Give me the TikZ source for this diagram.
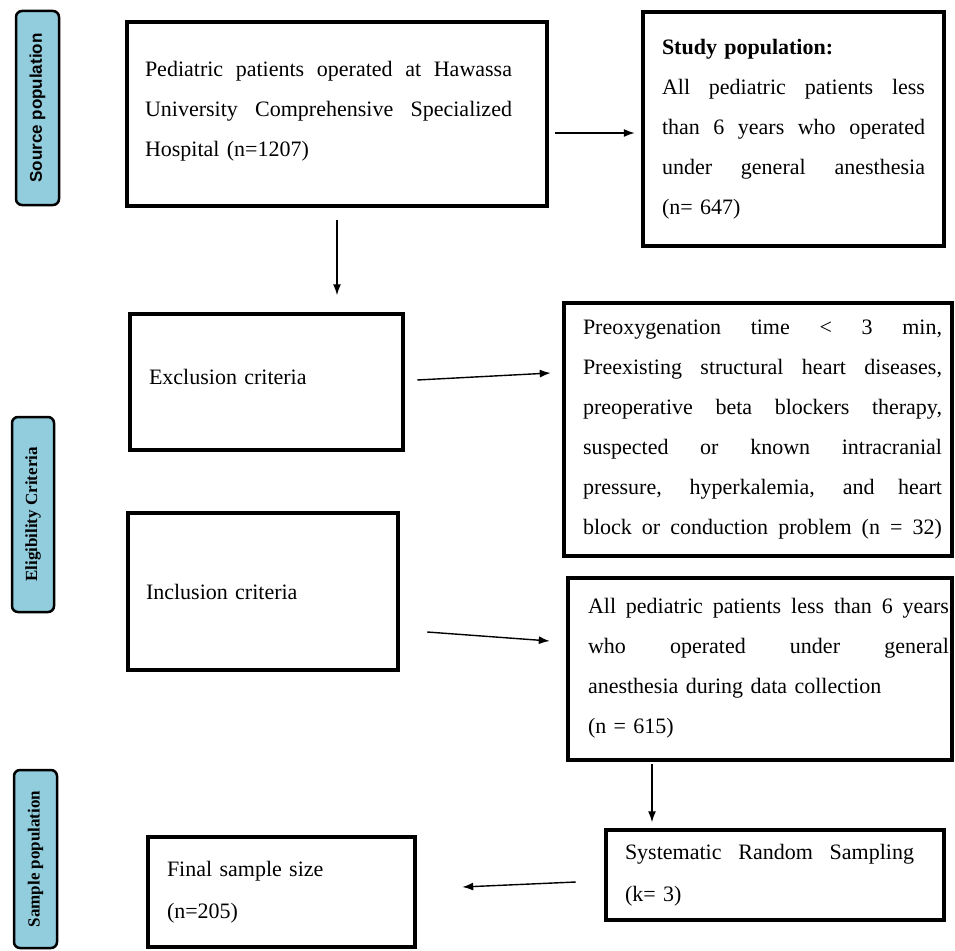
\documentclass[tikz,border=0pt]{standalone}
\usepackage{fontspec}
\setmainfont{Liberation Serif}
\newfontfamily\labsans{Liberation Sans}
\usetikzlibrary{arrows.meta}
\definecolor{lblue}{RGB}{146,205,221}
\newcommand{\jline}[2]{{\spaceskip=0pt\xspaceskip=0pt\makebox[#1][s]{#2}}}
\begin{document}
\begin{tikzpicture}[x=1pt,y=-1pt,
  box/.style={draw, line width=4.5pt, rectangle, align=left, font=\fontsize{22}{40}\selectfont, inner ysep=0pt},
  side/.style={draw, line width=2.5pt, rounded corners=6pt, fill=lblue, inner sep=0pt, rotate=90},
  arr/.style={line width=1.4pt, -{Latex[length=11pt,width=8pt]}}]
\useasboundingbox (0,0) rectangle (955,950);

% side labels
\node[side, minimum width=194pt, minimum height=43pt, font=\labsans\bfseries\fontsize{17}{17}\selectfont] (l1) at (37.5,108) {Source population};
\node[side, minimum width=195pt, minimum height=42pt, font=\bfseries\fontsize{17}{17}\selectfont] (l2) at (33,514.5) {Eligibility Criteria};
\node[side, minimum width=178pt, minimum height=43pt, font=\bfseries\fontsize{17}{17}\selectfont] (l3) at (35.5,859) {Sample population};

% boxes
\node[box, minimum width=420pt, minimum height=184pt, inner xsep=18pt, text width=384pt] (b1) at (337,114)
 {\jline{367pt}{Pediatric patients operated at Hawassa}\\
  \jline{367pt}{University Comprehensive Specialized}\\
  Hospital (n=1207)\rule[-10pt]{0pt}{1pt}};

\node[box, minimum width=301pt, minimum height=234pt, inner xsep=19pt, text width=263pt] (b2) at (793.5,129)
 {\textbf{Study population:}\\
  \jline{263pt}{All pediatric patients less}\\
  \jline{263pt}{than 6 years who operated}\\
  \jline{263pt}{under general anesthesia}\\
  (n= 647)};

\node[box, minimum width=273pt, minimum height=136pt, inner xsep=19pt, text width=235pt] (b3) at (266.5,382)
 {Exclusion criteria\rule[-10pt]{0pt}{1pt}};

\node[box, minimum width=388pt, minimum height=253pt, inner xsep=19pt, text width=350pt] (b4) at (758,429.5)
 {\jline{359pt}{Preoxygenation time < 3 min,}\\
  \jline{359pt}{Preexisting structural heart diseases,}\\
  \jline{359pt}{preoperative beta blockers therapy,}\\
  \jline{359pt}{suspected or known intracranial}\\
  \jline{359pt}{pressure, hyperkalemia, and heart}\\
  \jline{359pt}{block or conduction problem (n = 32)}};

\node[box, minimum width=270pt, minimum height=157pt, inner xsep=18pt, text width=234pt] (b5) at (263,591.5)
 {Inclusion criteria};

\node[box, minimum width=384pt, minimum height=182pt, inner xsep=20pt, text width=344pt] (b6) at (760,669)
 {\jline{361pt}{All pediatric patients less than 6 years}\\
  \jline{361pt}{who operated under general}\\
  anesthesia during data collection\\
  (n = 615)\rule[-6pt]{0pt}{1pt}};

\node[box, minimum width=338pt, minimum height=90pt, inner xsep=19pt, text width=300pt] (b7) at (775,875)
 {\jline{289pt}{Systematic Random Sampling}\\[2pt]
  (k= 3)};

\node[box, minimum width=267pt, minimum height=110pt, inner xsep=19pt, text width=229pt] (b8) at (281.5,892)
 {Final sample size\\[2pt]
  (n=205)};

% arrows
\draw[arr] ([shift={(6,19)}]b1.east) -- ([shift={(-6,4)}]b2.west);
\draw[arr] ([shift={(0,12)}]b1.south) -- ++(0,75);
\draw[arr] ([shift={(12,-2)}]b3.east) -- ([shift={(-11,-56.5)}]b4.west);
\draw[arr] ([shift={(27,40.5)}]b5.east) -- ([shift={(-16,-28)}]b6.west);
\draw[arr] ([shift={(-108,2)}]b6.south) -- ++(0,58);
\draw[arr] ([shift={(-28,7)}]b7.west) -- ([shift={(45,-5)}]b8.east);
\end{tikzpicture}
\end{document}
